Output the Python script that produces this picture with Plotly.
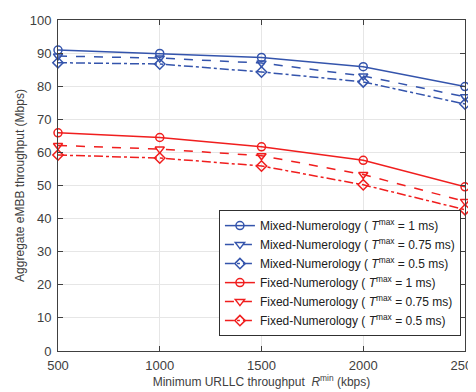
import plotly.graph_objects as go

r_min = [500, 1000, 1500, 2000, 2500]
mixed_1 = [90.9, 89.9, 88.7, 85.9, 79.9]
mixed_075 = [89.1, 88.5, 87.0, 83.1, 76.8]
mixed_05 = [87.1, 86.7, 84.3, 81.3, 74.6]
fixed_1 = [65.9, 64.5, 61.7, 57.6, 49.6]
fixed_075 = [62.1, 61.0, 59.0, 53.3, 45.2]
fixed_05 = [59.2, 58.3, 55.9, 50.2, 42.7]

BLUE = "rgb(52,84,172)"
RED = "rgb(240,30,30)"

series = [
    ("Mixed-Numerology ( <i>T</i><sup>max</sup> = 1 ms)", mixed_1, BLUE, "solid", "circle-open"),
    ("Mixed-Numerology ( <i>T</i><sup>max</sup> = 0.75 ms)", mixed_075, BLUE, "dash", "triangle-down-open"),
    ("Mixed-Numerology ( <i>T</i><sup>max</sup> = 0.5 ms)", mixed_05, BLUE, "dashdot", "diamond-open"),
    ("Fixed-Numerology ( <i>T</i><sup>max</sup> = 1 ms)", fixed_1, RED, "solid", "circle-open"),
    ("Fixed-Numerology ( <i>T</i><sup>max</sup> = 0.75 ms)", fixed_075, RED, "dash", "triangle-down-open"),
    ("Fixed-Numerology ( <i>T</i><sup>max</sup> = 0.5 ms)", fixed_05, RED, "dashdot", "diamond-open"),
]

fig = go.Figure()
for name, ys, color, dash, sym in series:
    fig.add_trace(go.Scatter(
        x=r_min, y=ys, name=name, mode="lines+markers",
        line=dict(color=color, width=1.5, dash=dash),
        marker=dict(symbol=sym, size=8, color=color, line=dict(color=color, width=1.5)),
        cliponaxis=False,
    ))

axis_common = dict(
    showline=True, linecolor="#404040", linewidth=1, mirror="ticks",
    ticks="inside", ticklen=5, tickcolor="#404040",
    showgrid=True, gridcolor="#e6e6e6", gridwidth=1,
    zeroline=False, ticklabeloverflow="allow",
    tickfont=dict(size=13, color="#404040"),
)

fig.update_layout(
    width=476, height=392,
    margin=dict(l=50, r=13, t=5, b=49),
    paper_bgcolor="white", plot_bgcolor="white",
    font=dict(family="Liberation Sans, Arial, sans-serif", color="#404040"),
    xaxis=dict(range=[500, 2500], tickvals=[500, 1000, 1500, 2000, 2500],
               ticklabelstandoff=2,
               title=dict(text="Minimum URLLC throughput  <i>R</i><sup>min</sup> (kbps)",
                          font=dict(size=12, color="#404040"), standoff=6),
               **axis_common),
    yaxis=dict(range=[0, 100], tickvals=list(range(0, 101, 10)),
               ticklabelstandoff=3,
               title=dict(text="Aggregate eMBB throughput (Mbps)",
                          font=dict(size=12, color="#404040"), standoff=2),
               **axis_common),
    legend=dict(x=0.99, y=0.045, xanchor="right", yanchor="bottom",
                bgcolor="white", bordercolor="#303030", borderwidth=1,
                font=dict(size=12, color="#202020"), tracegroupgap=0,
                itemwidth=30),
    showlegend=True,
)

fig.write_html("out.html")
